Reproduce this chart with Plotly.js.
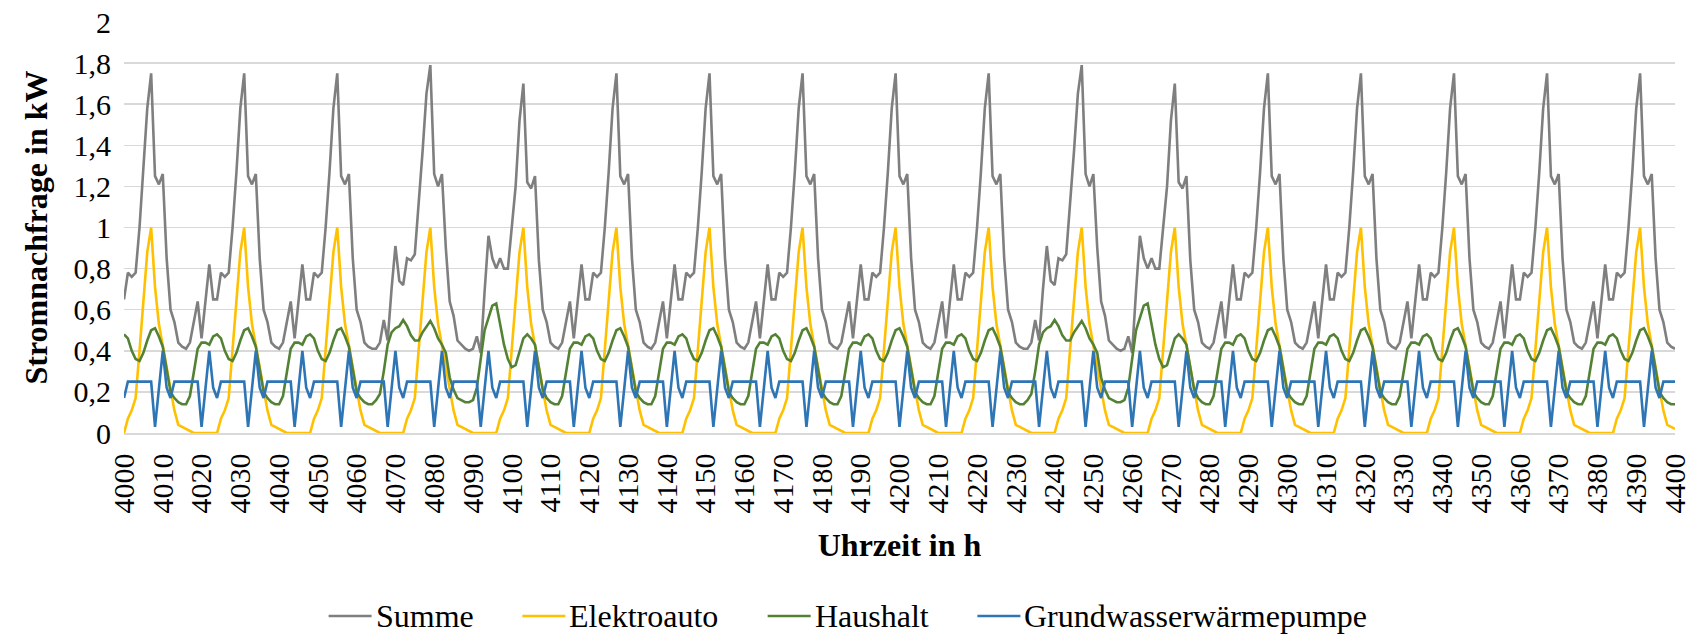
<!DOCTYPE html>
<html>
<head>
<meta charset="utf-8">
<script src="https://cdn.plot.ly/plotly-3.0.1.min.js"></script>
<style>
  html, body { margin: 0; padding: 0; background: #ffffff; }
  #chart { width: 1695px; height: 634px; }
</style>
</head>
<body>
<div id="chart"></div>
<script>
// First hour shown and the calendar of the 17 days (4000 h ... 4400 h)
const startHour = 4000;
const endHour = 4400;
const dayTypes = ['Mi', 'Do', 'Fr', 'Sa', 'So', 'Mo', 'Di', 'Mi', 'Do', 'Fr', 'Sa', 'So', 'Mo', 'Di', 'Mi', 'Do', 'Fr'];

// Hourly profiles (kW), hour 0..23 of a day
// Elektroauto: same charging curve every day
const elektroautoDay = [0, 0.07, 0.11, 0.17, 0.40, 0.63, 0.88, 1.00, 0.71, 0.53, 0.42, 0.32,
                        0.21, 0.11, 0.04, 0.03, 0.02, 0.01, 0, 0, 0, 0, 0, 0];

// Grundwasserwärmepumpe: 12-hour cycle
const waermepumpeDay = [0.17, 0.25, 0.25, 0.25, 0.25, 0.25, 0.25, 0.25, 0.03, 0.21, 0.40, 0.22,
                        0.17, 0.25, 0.25, 0.25, 0.25, 0.25, 0.25, 0.25, 0.03, 0.21, 0.40, 0.22];

// Haushalt by day type
const haushaltWerktag = [0.48, 0.46, 0.40, 0.36, 0.35, 0.39, 0.45, 0.50, 0.51, 0.47, 0.42, 0.30,
                         0.20, 0.17, 0.15, 0.14, 0.14, 0.18, 0.29, 0.41, 0.44, 0.44, 0.43, 0.47];
const haushaltFreitag = [0.48, 0.46, 0.40, 0.36, 0.35, 0.39, 0.45, 0.50, 0.51, 0.47, 0.42, 0.30,
                         0.20, 0.17, 0.15, 0.14, 0.14, 0.16, 0.19, 0.30, 0.43, 0.49, 0.51, 0.52];
const haushaltSamstag = [0.55, 0.52, 0.475, 0.45, 0.45, 0.49, 0.52, 0.545, 0.51, 0.46, 0.43, 0.39,
                         0.27, 0.21, 0.17, 0.16, 0.15, 0.15, 0.16, 0.22, 0.37, 0.50, 0.56, 0.62];
const haushaltSonntag = [0.63, 0.53, 0.43, 0.36, 0.32, 0.33, 0.39, 0.46, 0.48, 0.46, 0.43, 0.32,
                         0.21, 0.17, 0.15, 0.14, 0.14, 0.18, 0.29, 0.41, 0.44, 0.44, 0.43, 0.47];

// Summe by day type
const summeWerktag = [0.65, 0.78, 0.76, 0.78, 1.00, 1.27, 1.58, 1.75, 1.25, 1.21, 1.26, 0.85,
                      0.60, 0.54, 0.44, 0.42, 0.41, 0.44, 0.54, 0.64, 0.46, 0.65, 0.82, 0.65];
const summeFreitag = [0.65, 0.78, 0.76, 0.78, 1.00, 1.27, 1.58, 1.75, 1.25, 1.21, 1.26, 0.85,
                      0.60, 0.54, 0.44, 0.42, 0.41, 0.41, 0.44, 0.55, 0.45, 0.70, 0.91, 0.74];
const summeSamstag = [0.72, 0.85, 0.84, 0.87, 1.10, 1.37, 1.65, 1.79, 1.26, 1.20, 1.26, 0.90,
                      0.64, 0.57, 0.45, 0.43, 0.41, 0.40, 0.41, 0.47, 0.39, 0.69, 0.96, 0.85];
const summeSonntag = [0.80, 0.85, 0.80, 0.80, 0.99, 1.20, 1.52, 1.70, 1.22, 1.19, 1.25, 0.84,
                      0.60, 0.54, 0.44, 0.42, 0.41, 0.44, 0.54, 0.64, 0.46, 0.65, 0.82, 0.65];

// Tick labels
const hourTicks = [];
for (let t = startHour; t <= endHour; t += 10) hourTicks.push(t);
const valueTicks = [0, 0.2, 0.4, 0.6, 0.8, 1, 1.2, 1.4, 1.6, 1.8, 2];
const valueTickText = ['0', '0,2', '0,4', '0,6', '0,8', '1', '1,2', '1,4', '1,6', '1,8', '2'];

// Series names and colours
const seriesNames = ['Summe', 'Elektroauto', 'Haushalt', 'Grundwasserwärmepumpe'];
const seriesColors = ['#7f7f7f', '#ffc000', '#548235', '#2e75b6'];

const haushaltByType = { Mo: haushaltWerktag, Di: haushaltWerktag, Mi: haushaltWerktag, Do: haushaltWerktag,
                         Fr: haushaltFreitag, Sa: haushaltSamstag, So: haushaltSonntag };
const summeByType = { Mo: summeWerktag, Di: summeWerktag, Mi: summeWerktag, Do: summeWerktag,
                      Fr: summeFreitag, Sa: summeSamstag, So: summeSonntag };

// Assemble the hourly series from the calendar
const hours = [], summe = [], elektroauto = [], haushalt = [], waermepumpe = [];
for (let hr = startHour; hr <= endHour; hr++) {
  const i = hr - startHour;
  const type = dayTypes[Math.floor(i / 24)];
  const h = i % 24;
  hours.push(hr);
  summe.push(summeByType[type][h]);
  elektroauto.push(elektroautoDay[h]);
  haushalt.push(haushaltByType[type][h]);
  waermepumpe.push(waermepumpeDay[h]);
}
const seriesValues = [summe, elektroauto, haushalt, waermepumpe];

const lineWidth = 2.6;
const traces = seriesNames.map((name, k) => ({
  name: name, x: hours, y: seriesValues[k], mode: 'lines',
  line: { color: seriesColors[k], width: lineWidth }
}));

// Page geometry
const W = 1695, H = 634;
const margin = { l: 124, r: 20, t: 22, b: 201 };
const plotW = W - margin.l - margin.r;
const plotH = H - margin.t - margin.b;
const toPaperX = px => (px - margin.l) / plotW;
const toPaperY = py => (H - margin.b - py) / plotH;

const serifName = 'Liberation Serif';
const serif = 'Liberation Serif, Times New Roman, serif';
const legendFontSize = 32;

// Legend row below the chart: line sample, label, then a gap to the next entry
const measure = document.createElement('canvas').getContext('2d');
measure.font = legendFontSize + 'px "' + serifName + '"';
const sampleLen = 43, sampleToText = 3, textToNext = 50, legendY = 616;
const labelWidths = seriesNames.map(n => measure.measureText(n).width);
const legendTotal = labelWidths.reduce((s, w) => s + sampleLen + sampleToText + w, 0) + textToNext * (seriesNames.length - 1);
let cursor = (W - legendTotal) / 2;
const legendShapes = [], legendLabels = [];
seriesNames.forEach((name, k) => {
  legendShapes.push({
    type: 'line', xref: 'paper', yref: 'paper',
    x0: toPaperX(cursor), x1: toPaperX(cursor + sampleLen),
    y0: toPaperY(legendY), y1: toPaperY(legendY),
    line: { color: seriesColors[k], width: lineWidth }
  });
  cursor += sampleLen + sampleToText;
  legendLabels.push({
    text: name, xref: 'paper', yref: 'paper',
    x: toPaperX(cursor), y: toPaperY(legendY),
    xanchor: 'left', yanchor: 'middle', showarrow: false,
    borderpad: 0,
    font: { family: serif, size: legendFontSize, color: '#000000' }
  });
  cursor += labelWidths[k] + textToNext;
});

const layout = {
  width: W,
  height: H,
  margin: margin,
  paper_bgcolor: '#ffffff',
  plot_bgcolor: '#ffffff',
  font: { family: serif, color: '#000000', size: 30 },
  showlegend: false,
  shapes: legendShapes,
  annotations: legendLabels,
  xaxis: {
    range: [startHour, endHour],
    tickmode: 'array',
    tickvals: hourTicks,
    ticktext: hourTicks.map(String),
    tickangle: -90,
    tickfont: { family: serif, size: 30, color: '#000000' },
    ticks: '',
    ticklabelstandoff: 7,
    showgrid: false,
    zeroline: false,
    showline: true,
    linecolor: '#d9d9d9',
    linewidth: 1.5,
    title: { text: 'Uhrzeit in h', font: { family: serif, size: 32, color: '#000000', weight: 'bold' }, standoff: 21 },
    automargin: false
  },
  yaxis: {
    range: [0, 2],
    tickmode: 'array',
    tickvals: valueTicks,
    ticktext: valueTickText,
    tickfont: { family: serif, size: 30, color: '#000000' },
    ticks: '',
    ticklabelstandoff: 12,
    showgrid: true,
    gridcolor: '#d9d9d9',
    gridwidth: 1.5,
    zeroline: false,
    showline: false,
    title: { text: 'Stromnachfrage in kW', font: { family: serif, size: 32, color: '#000000', weight: 'bold' }, standoff: 16 },
    automargin: false
  }
};

Plotly.newPlot('chart', traces, layout, { displayModeBar: false, staticPlot: true });
</script>
</body>
</html>
